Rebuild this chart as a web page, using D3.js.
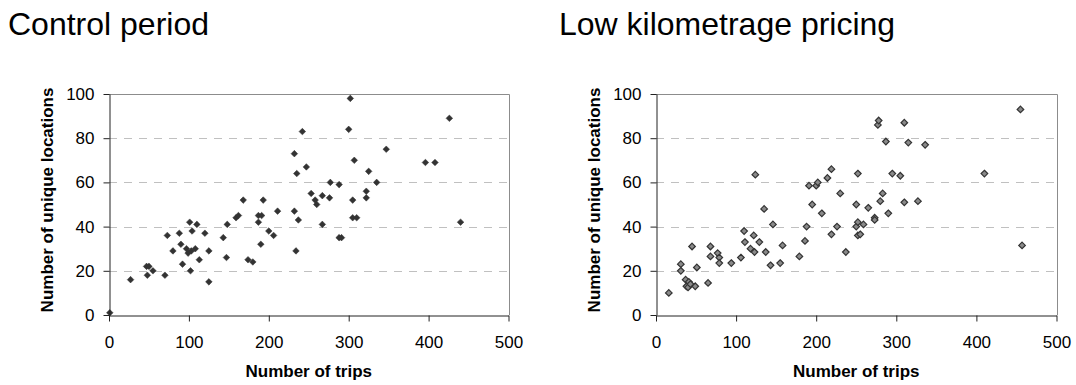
<!DOCTYPE html>
<html>
<head>
<meta charset="utf-8">
<script src="https://cdn.jsdelivr.net/npm/d3@7"></script>
<style>
  body { margin: 0; background: #fff; }
  svg { font-family: "Liberation Sans", Arial, sans-serif; }
  .tick text { font-size: 17px; fill: #000; }
  .axis path, .axis line { stroke: #222; }
</style>
</head>
<body>
<script>
/* Values */
var controlTrips = [1, 27, 47, 50, 48, 55, 70, 73, 80, 88, 90, 92, 97, 99, 101, 102, 104, 103, 108, 110,
  113, 120, 125, 125, 143, 147, 148, 159, 162, 168, 174, 180, 187, 191, 187, 190, 193, 200, 206, 211,
  232, 235, 232, 237, 234, 242, 247, 253, 258, 260, 267, 267, 276, 277, 288, 288, 291, 302, 300, 307,
  305, 305, 310, 322, 322, 325, 335, 347, 396, 408, 426, 440];
var controlLocations = [1, 16, 22, 22, 18, 20, 18, 36, 29, 37, 32, 23, 30, 28, 42, 20, 38, 29, 30, 41,
  25, 37, 29, 15, 35, 26, 41, 44, 45, 52, 25, 24, 45, 45, 42, 32, 52, 38, 36, 47,
  73, 64, 47, 43, 29, 83, 67, 55, 52, 50, 54, 41, 53, 60, 59, 35, 35, 98, 84, 70,
  52, 44, 44, 56, 53, 65, 60, 75, 69, 69, 89, 42];

var lowKmTrips = [16, 31, 31, 37, 38, 40, 41, 43, 45, 49, 51, 65, 68, 68, 77, 79, 79, 94, 106, 110,
  111, 118, 122, 123, 124, 129, 135, 137, 143, 146, 155, 158, 179, 186, 188, 191, 195, 200, 202, 207,
  214, 219, 219, 226, 230, 237, 250, 252, 250, 252, 252, 255, 259, 265, 273, 273, 277, 278, 280, 283,
  287, 290, 295, 305, 310, 310, 315, 327, 336, 410, 455, 457];
var lowKmLocations = [10, 23, 20, 16, 13, 12.5, 15, 14, 31, 13, 21.5, 14.5, 31, 26.5, 28, 26, 23.5, 23.5, 26, 38,
  33, 30, 36, 28.5, 63.5, 33, 48, 28.5, 22.5, 41, 23.5, 31.5, 26.5, 33.5, 40, 58.5, 50, 58.5, 60, 46,
  62, 66, 36.5, 40, 55, 28.5, 50, 64, 40, 42, 36, 36.5, 41, 48.5, 44, 43, 86, 88, 51.5, 55,
  78.5, 46, 64, 63, 87, 51, 78, 51.5, 77, 64, 93, 31.5];

var xTicks = [0, 100, 200, 300, 400, 500];
var yTicks = [0, 20, 40, 60, 80, 100];
var gridTicks = [20, 40, 60, 80];

var width = 1076;
var height = 385;

var svg = d3.select("body").append("svg")
  .attr("width", width)
  .attr("height", height);

/* One panel: title, dashed grid, axes, diamonds */
function drawPanel(opts) {
  var x = d3.scaleLinear().domain([0, 500]).range([opts.left, opts.right]);
  var y = d3.scaleLinear().domain([0, 100]).range([315, 94]);

  svg.append("text")
    .attr("x", opts.titleX)
    .attr("y", 35)
    .style("font-size", "32px")
    .text(opts.title);

  // grid
  svg.append("g").selectAll("line")
    .data(gridTicks)
    .enter().append("line")
    .attr("x1", opts.left).attr("x2", opts.right)
    .attr("y1", function(d) { return Math.round(y(d)) + 0.5; })
    .attr("y2", function(d) { return Math.round(y(d)) + 0.5; })
    .attr("stroke", "#c0c0c0")
    .attr("stroke-dasharray", "8,7");

  // plot border top + right
  svg.append("path")
    .attr("d", "M" + opts.left + "," + (y(100) + 0.5) + "H" + (Math.round(opts.right) + 0.5) + "V" + y(0))
    .attr("fill", "none")
    .attr("stroke", "#8c8c8c");

  var points = opts.xs.map(function(v, i) { return [v, opts.ys[i]]; });
  var r = 3.3;
  svg.append("g").selectAll("path")
    .data(points)
    .enter().append("path")
    .attr("transform", function(d) { return "translate(" + x(d[0]) + "," + y(d[1]) + ")"; })
    .attr("d", "M0," + (-r) + "L" + r + ",0L0," + r + "L" + (-r) + ",0Z")
    .attr("fill", opts.fill)
    .attr("stroke", opts.stroke)
    .attr("stroke-width", opts.strokeWidth);

  svg.append("g")
    .attr("class", "axis")
    .attr("transform", "translate(" + (opts.left + 0.5) + ",0)")
    .call(d3.axisLeft(y).tickValues(yTicks).tickSize(6).tickSizeOuter(0).tickPadding(9))
    .call(function(g) { g.selectAll(".tick text").style("font-size", "17px"); });

  svg.append("g")
    .attr("class", "axis")
    .attr("transform", "translate(0," + (y(0) + 0.5) + ")")
    .call(d3.axisBottom(x).tickValues(xTicks).tickSize(6).tickSizeOuter(0).tickPadding(14))
    .call(function(g) { g.selectAll(".tick text").style("font-size", "17px"); });

  svg.append("text")
    .attr("transform", "translate(" + (opts.left - 56.5) + ",200) rotate(-90)")
    .attr("text-anchor", "middle")
    .style("font-size", "17px")
    .style("font-weight", "bold")
    .text("Number of unique locations");

  svg.append("text")
    .attr("x", (opts.left + opts.right) / 2)
    .attr("y", 377)
    .attr("text-anchor", "middle")
    .style("font-size", "17px")
    .style("font-weight", "bold")
    .text("Number of trips");
}

drawPanel({
  title: "Control period", titleX: 8,
  left: 109, right: 508.5,
  xs: controlTrips, ys: controlLocations,
  fill: "#333", stroke: "#333", strokeWidth: 0.5
});

drawPanel({
  title: "Low kilometrage pricing", titleX: 559,
  left: 656, right: 1056.5,
  xs: lowKmTrips, ys: lowKmLocations,
  fill: "#8a8a8a", stroke: "#333", strokeWidth: 1.2
});
</script>
</body>
</html>
